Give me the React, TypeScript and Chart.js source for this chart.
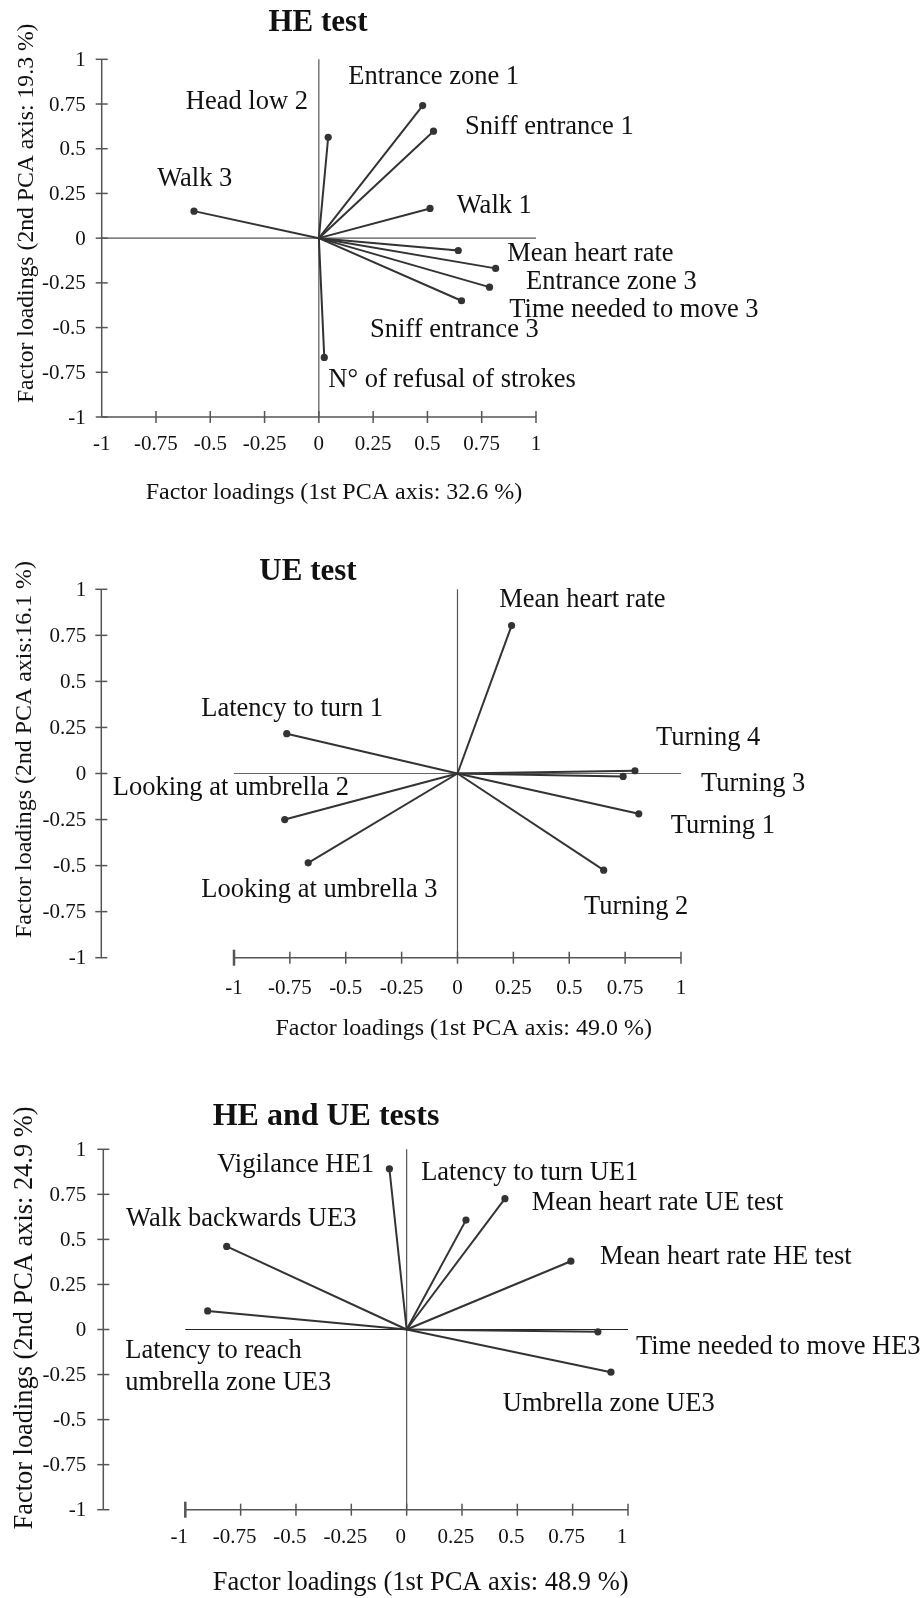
import React, { useEffect, useRef } from "react";
import { Chart, registerables } from "chart.js";

Chart.register(...registerables);

// ---------- DATA ----------
// Panel 1: HE test
const heNames = [
  "Walk 3",
  "Head low 2",
  "Entrance zone 1",
  "Sniff entrance 1",
  "Walk 1",
  "Mean heart rate",
  "Entrance zone 3",
  "Time needed to move 3",
  "Sniff entrance 3",
  "N° of refusal of strokes",
];
const heX = [-0.575, 0.043, 0.478, 0.528, 0.512, 0.642, 0.814, 0.786, 0.657, 0.025];
const heY = [0.151, 0.564, 0.741, 0.598, 0.166, -0.069, -0.169, -0.274, -0.35, -0.667];

// Panel 2: UE test
const ueNames = [
  "Latency to turn 1",
  "Looking at umbrella 2",
  "Looking at umbrella 3",
  "Mean heart rate",
  "Turning 4",
  "Turning 3",
  "Turning 1",
  "Turning 2",
];
const ueX = [-0.764, -0.773, -0.668, 0.242, 0.794, 0.741, 0.811, 0.654];
const ueY = [0.216, -0.25, -0.485, 0.803, 0.015, -0.016, -0.219, -0.525];

// Panel 3: HE and UE tests
const bothNames = [
  "Vigilance HE1",
  "Latency to turn UE1",
  "Mean heart rate UE test",
  "Mean heart rate HE test",
  "Time needed to move HE3",
  "Umbrella zone UE3",
  "Walk backwards UE3",
  "Latency to reach\numbrella zone UE3",
];
const bothX = [-0.078, 0.268, 0.444, 0.742, 0.864, 0.923, -0.813, -0.899];
const bothY = [0.892, 0.607, 0.726, 0.379, -0.013, -0.237, 0.461, 0.103];

const tickValues = [-1, -0.75, -0.5, -0.25, 0, 0.25, 0.5, 0.75, 1];
const tickLabels = ["-1", "-0.75", "-0.5", "-0.25", "0", "0.25", "0.5", "0.75", "1"];

const panelTitles = ["HE test", "UE test", "HE and UE tests"];
const xAxisTitles = [
  "Factor loadings (1st PCA axis: 32.6 %)",
  "Factor loadings (1st PCA axis: 49.0 %)",
  "Factor loadings (1st PCA axis: 48.9 %)",
];
const yAxisTitles = [
  "Factor loadings (2nd PCA axis: 19.3 %)",
  "Factor loadings (2nd PCA axis:16.1 %)",
  "Factor loadings (2nd PCA axis: 24.9 %)",
];

// ---------- LAYOUT / STYLE ----------
const SERIF = "'Liberation Serif', 'Times New Roman', Times, serif";
const TEXT = "#111";
const AXIS = "#555";
const VEC = "#333";

type Layout = {
  top: number;
  height: number;
  pad: { left: number; right: number; top: number; bottom: number };
  yAxisOffset: number;
  yTickGap: number;
  xTickBase: number;
  xTickShift: number;
  bigFirstTick: boolean;
  labelOffsets: number[][];
  title: [number, number, number];
  yTitle: [number, number, number];
  xTitle: [number, number, number];
  hZeroColor: string;
};

const layouts: Layout[] = [
  {
    top: 0,
    height: 530,
    pad: { left: 101.7, right: 388, top: 59.3, bottom: 113 },
    yAxisOffset: 0,
    yTickGap: 16,
    xTickBase: 33,
    xTickShift: 0,
    bigFirstTick: false,
    labelOffsets: [
      [-36.8, -25],
      [-142.4, -28],
      [-74.3, -21.6],
      [31.5, 3.1],
      [26.7, 4.2],
      [49, 10.2],
      [30.4, 20.9],
      [19.8, 29.5],
      [-91.5, 36],
      [4, 29.3],
    ],
    title: [318, 31, 31],
    yTitle: [33, 213.3, 23.7],
    xTitle: [334, 499, 24],
    hZeroColor: "#555",
  },
  {
    top: 530,
    height: 530,
    pad: { left: 234, right: 243, top: 59.3, bottom: 102.3 },
    yAxisOffset: 132.7,
    yTickGap: 15,
    xTickBase: 36,
    xTickShift: 0,
    bigFirstTick: true,
    labelOffsets: [
      [-85.5, -17.7],
      [-172, -24.5],
      [-106.9, 34.5],
      [-12.3, -18.9],
      [21, -25.7],
      [77.9, 14.3],
      [31.9, 18.9],
      [-19.7, 44.1],
    ],
    title: [308, 50, 31],
    yTitle: [31, 219.5, 23.9],
    xTitle: [463.7, 505, 24],
    hZeroColor: "#666",
  },
  {
    top: 1060,
    height: 538,
    pad: { left: 185.3, right: 296, top: 89.3, bottom: 88.3 },
    yAxisOffset: 82,
    yTickGap: 17,
    xTickBase: 33,
    xTickShift: -6,
    bigFirstTick: true,
    labelOffsets: [
      [-172.1, 2.9],
      [-44.8, -40.1],
      [26.8, 11.3],
      [29.1, 3.1],
      [38.1, 22.5],
      [-108.2, 38.5],
      [-100.7, -20.4],
      [-82.4, 47.4],
    ],
    title: [326, 65, 32],
    yTitle: [32, 258, 26.4],
    xTitle: [420.7, 530, 26.5],
    hZeroColor: "#222",
  },
];

type PanelData = { names: string[]; xs: number[]; ys: number[] };
const panels: PanelData[] = [
  { names: heNames, xs: heX, ys: heY },
  { names: ueNames, xs: ueX, ys: ueY },
  { names: bothNames, xs: bothX, ys: bothY },
];

function makeDecor(idx: number) {
  const L = layouts[idx];
  const P = panels[idx];
  const seg = (ctx: CanvasRenderingContext2D, x1: number, y1: number, x2: number, y2: number) => {
    ctx.beginPath();
    ctx.moveTo(x1, y1);
    ctx.lineTo(x2, y2);
    ctx.stroke();
  };
  return {
    id: "pcaDecor" + idx,
    beforeDatasetsDraw(chart: any) {
      const ctx: CanvasRenderingContext2D = chart.ctx;
      const xs = chart.scales.x;
      const ys = chart.scales.y;
      const x0 = xs.getPixelForValue(0);
      const y0 = ys.getPixelForValue(0);
      const xL = xs.getPixelForValue(-1);
      const xR = xs.getPixelForValue(1);
      const yT = ys.getPixelForValue(1);
      const yB = ys.getPixelForValue(-1);
      const ax = xL - L.yAxisOffset;
      ctx.save();
      ctx.lineCap = "butt";
      // zero lines
      ctx.strokeStyle = "#555";
      ctx.lineWidth = 1.2;
      seg(ctx, x0, yT, x0, yB);
      ctx.strokeStyle = L.hZeroColor;
      seg(ctx, xL, y0, xR, y0);
      // y axis
      ctx.strokeStyle = AXIS;
      ctx.lineWidth = 1.5;
      seg(ctx, ax, yT, ax, yB);
      tickValues.forEach((v) => {
        const py = ys.getPixelForValue(v);
        seg(ctx, ax - 6, py, ax + 6, py);
      });
      // x axis
      seg(ctx, L.yAxisOffset === 0 ? ax : xL, yB, xR, yB);
      tickValues.forEach((v, i) => {
        const px = xs.getPixelForValue(v);
        if (i === 0) {
          if (L.bigFirstTick) {
            ctx.lineWidth = 2.5;
            seg(ctx, px, yB - 8, px, yB + 8);
            ctx.lineWidth = 1.5;
          }
          return;
        }
        seg(ctx, px, yB - 6, px, yB + 6);
      });
      // tick labels
      ctx.fillStyle = TEXT;
      ctx.font = `21px ${SERIF}`;
      ctx.textAlign = "right";
      ctx.textBaseline = "middle";
      tickValues.forEach((v, i) => {
        ctx.fillText(tickLabels[i], ax - L.yTickGap, ys.getPixelForValue(v) + 1);
      });
      ctx.textAlign = "center";
      ctx.textBaseline = "alphabetic";
      tickValues.forEach((v, i) => {
        ctx.fillText(tickLabels[i], xs.getPixelForValue(v) + L.xTickShift, yB + L.xTickBase);
      });
      ctx.restore();
    },
    afterDatasetsDraw(chart: any) {
      const ctx: CanvasRenderingContext2D = chart.ctx;
      const xs = chart.scales.x;
      const ys = chart.scales.y;
      ctx.save();
      ctx.fillStyle = TEXT;
      // vector labels
      ctx.font = `26.5px ${SERIF}`;
      ctx.textAlign = "left";
      ctx.textBaseline = "alphabetic";
      P.names.forEach((name, i) => {
        const px = xs.getPixelForValue(P.xs[i]) + L.labelOffsets[i][0];
        const py = ys.getPixelForValue(P.ys[i]) + L.labelOffsets[i][1];
        name.split("\n").forEach((line, k) => ctx.fillText(line, px, py + k * 31.7));
      });
      // panel title
      ctx.font = `bold ${L.title[2]}px ${SERIF}`;
      ctx.textAlign = "center";
      ctx.fillText(panelTitles[idx], L.title[0], L.title[1]);
      // x title
      ctx.font = `${L.xTitle[2]}px ${SERIF}`;
      ctx.fillText(xAxisTitles[idx], L.xTitle[0], L.xTitle[1]);
      // y title
      ctx.font = `${L.yTitle[2]}px ${SERIF}`;
      ctx.translate(L.yTitle[0], L.yTitle[1]);
      ctx.rotate(-Math.PI / 2);
      ctx.fillText(yAxisTitles[idx], 0, 0);
      ctx.restore();
    },
  };
}

function buildConfig(idx: number): any {
  const L = layouts[idx];
  const P = panels[idx];
  const datasets = P.xs.map((vx, i) => ({
    label: P.names[i],
    data: [
      { x: 0, y: 0 },
      { x: vx, y: P.ys[i] },
    ],
    showLine: true,
    borderColor: VEC,
    borderWidth: 2,
    pointRadius: [0, 3.6],
    pointHoverRadius: 0,
    pointBackgroundColor: VEC,
    pointBorderColor: VEC,
    pointBorderWidth: 0,
    clip: false,
  }));
  return {
    type: "scatter",
    data: { datasets },
    options: {
      responsive: false,
      maintainAspectRatio: false,
      animation: false,
      events: [],
      layout: { padding: L.pad },
      scales: {
        x: { type: "linear", min: -1, max: 1, display: false },
        y: { type: "linear", min: -1, max: 1, display: false },
      },
      plugins: {
        legend: { display: false },
        tooltip: { enabled: false },
        title: { display: false },
      },
    },
    plugins: [makeDecor(idx)],
  };
}

function Panel({ idx }: { idx: number }) {
  const ref = useRef<HTMLCanvasElement>(null);
  const L = layouts[idx];
  useEffect(() => {
    const chart = new Chart(ref.current as HTMLCanvasElement, buildConfig(idx));
    return () => chart.destroy();
  }, [idx]);
  return (
    <canvas
      ref={ref}
      width={924}
      height={L.height}
      style={{ position: "absolute", left: 0, top: L.top, width: 924, height: L.height }}
    />
  );
}

export default function App() {
  return (
    <div
      style={{
        position: "absolute",
        left: 0,
        top: 0,
        width: 924,
        height: 1598,
        background: "#fff",
        overflow: "hidden",
      }}
    >
      <Panel idx={0} />
      <Panel idx={1} />
      <Panel idx={2} />
    </div>
  );
}
